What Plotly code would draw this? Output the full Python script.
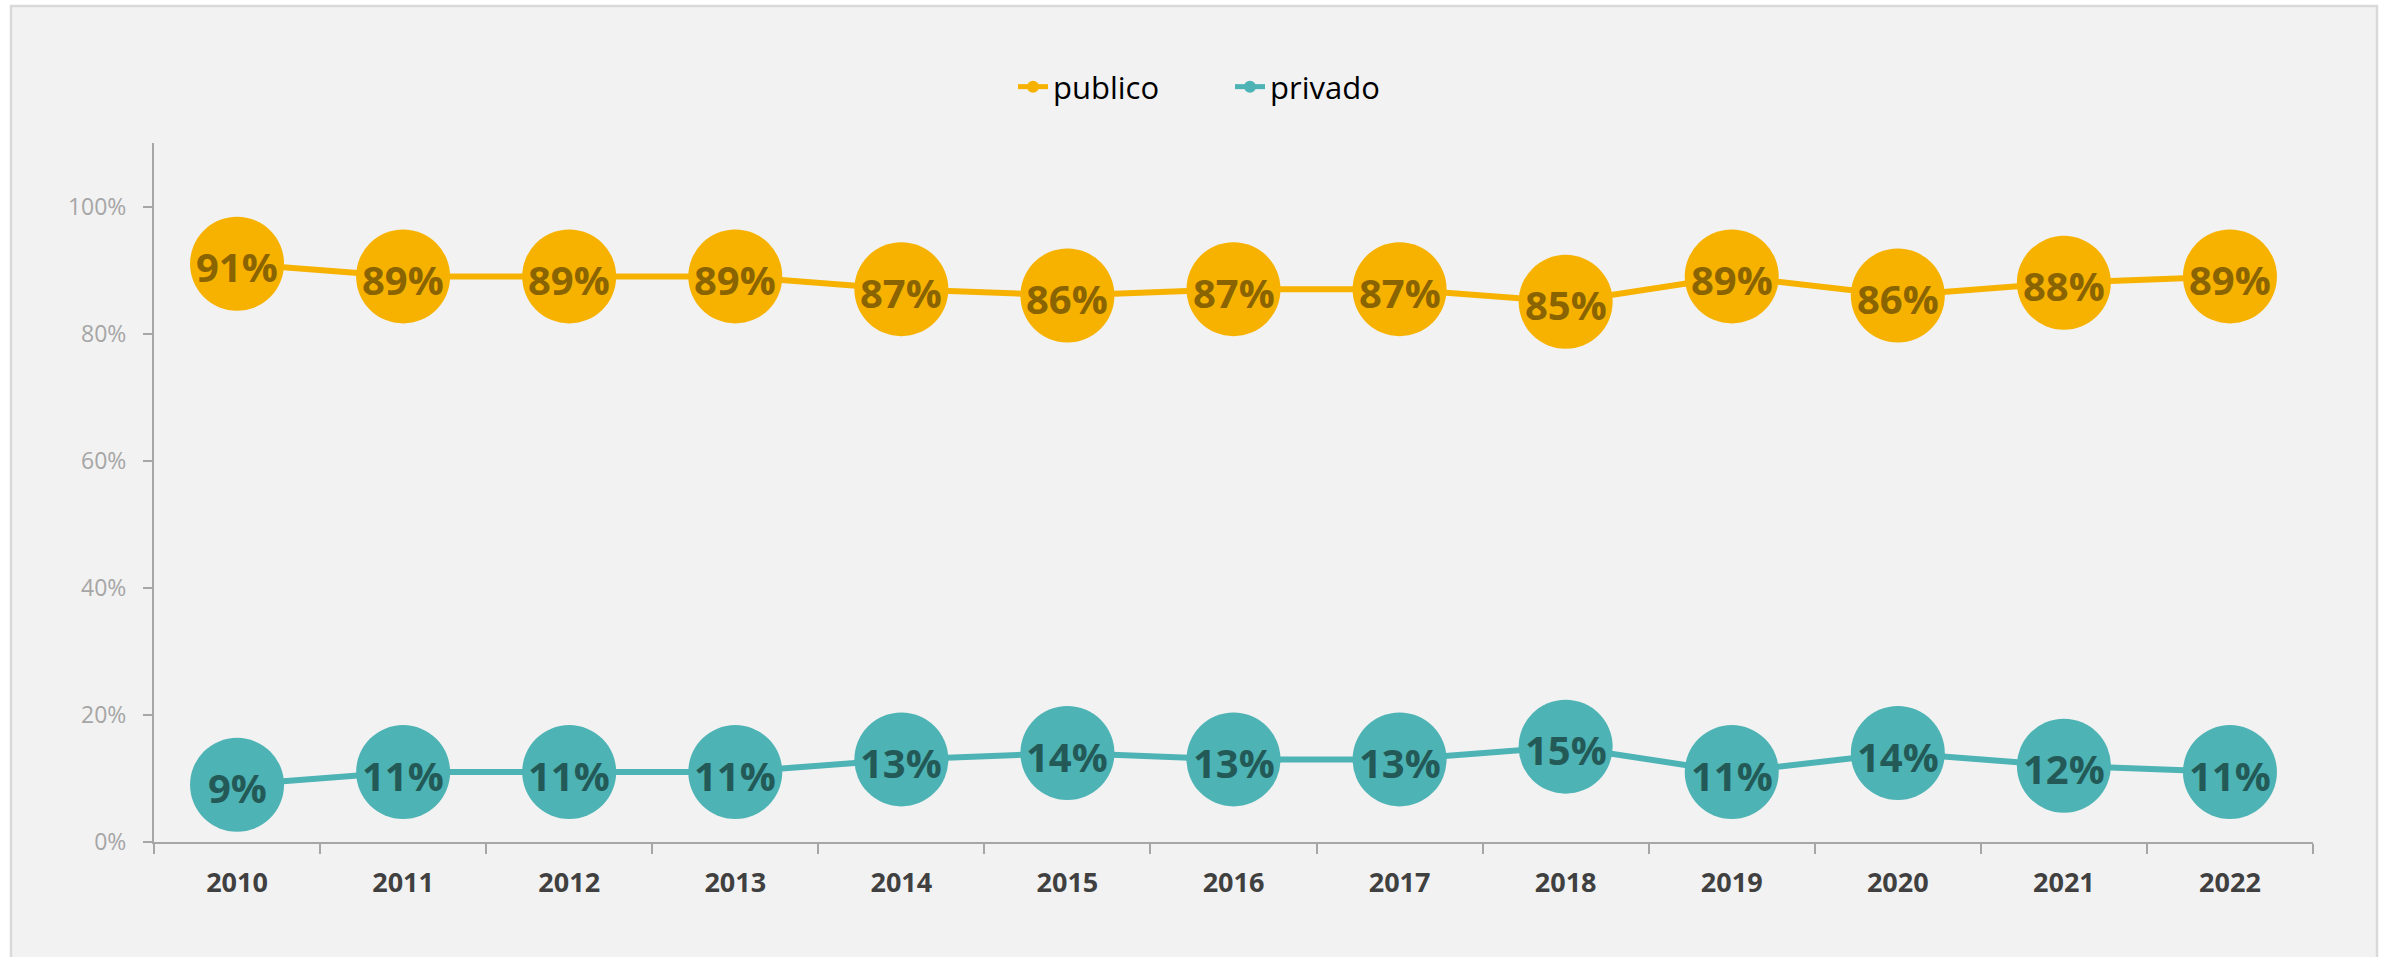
import plotly.graph_objects as go

years = ["2010", "2011", "2012", "2013", "2014", "2015", "2016", "2017", "2018", "2019", "2020", "2021", "2022"]
publico = [0.91, 0.89, 0.89, 0.89, 0.87, 0.86, 0.87, 0.87, 0.85, 0.89, 0.86, 0.88, 0.89]
privado = [0.09, 0.11, 0.11, 0.11, 0.13, 0.14, 0.13, 0.13, 0.15, 0.11, 0.14, 0.12, 0.11]
y_ticks = [0, 0.2, 0.4, 0.6, 0.8, 1.0]
y_tick_labels = ["0%", "20%", "40%", "60%", "80%", "100%"]

FONT = "Open Sans"

def labels(vals):
    return [f"{round(v*100)}%" for v in vals]

series = [
    ("publico", publico, "#F7B200", "#8A6400"),
    ("privado", privado, "#4DB3B4", "#235A58"),
]

fig = go.Figure()
for name, vals, col, tcol in series:
    fig.add_trace(go.Scatter(
        x=years, y=vals, name=name, mode="lines+markers",
        line=dict(color=col, width=6),
        marker=dict(color=col, size=94),
    ))
    # category index positions on the categorical x axis
    for i, (v, t) in enumerate(zip(vals, labels(vals))):
        fig.add_annotation(x=i, y=v, xref="x", yref="y", text=t, showarrow=False,
                           yshift=-3,
                           font=dict(family=FONT, size=40, color=tcol, weight="bold"))

W, H = 2395, 957
ml, mr, mt, mb = 154, 82, 143, 115
pw = W - ml - mr
ph = H - mt - mb

fig.add_shape(type="rect", xref="paper", yref="paper",
              x0=(11 - ml) / pw, x1=(2377 - ml) / pw,
              y0=1 - (980 - mt) / ph, y1=1 + (mt - 6) / ph,
              fillcolor="#F2F2F2", line=dict(color="#D9D9D9", width=2.5),
              layer="below")

fig.update_layout(
    width=W, height=H, autosize=False,
    margin=dict(l=ml, r=mr, t=mt, b=mb, autoexpand=False),
    paper_bgcolor="white", plot_bgcolor="rgba(0,0,0,0)",
    showlegend=True,
    legend=dict(orientation="h", x=(1230 - ml) / pw, xanchor="center",
                y=1.0 + (mt - 87) / ph, yanchor="middle", itemsizing="constant",
                font=dict(family=FONT, size=31, color="#000000"),
                bgcolor="rgba(0,0,0,0)", entrywidth=172, tracegroupgap=0),
    font=dict(family=FONT),
)
fig.update_xaxes(
    type="category", tickson="boundaries", ticks="outside", ticklen=10,
    tickcolor="#A6A6A6", tickwidth=2, showline=True, linecolor="#A6A6A6", linewidth=2,
    showgrid=False, zeroline=False, tickangle=0, automargin=False,
    ticklabelstandoff=16,
    tickfont=dict(family=FONT, size=27, color="#404040", weight="bold"),
    range=[-0.5, 12.5],
)
fig.update_yaxes(
    range=[0, 1.1], tickvals=y_ticks, ticktext=y_tick_labels,
    ticks="outside", ticklen=9, tickcolor="#A6A6A6", tickwidth=2,
    showline=True, linecolor="#A6A6A6", linewidth=2,
    showgrid=False, zeroline=False, automargin=False,
    ticklabelstandoff=12,
    tickfont=dict(family=FONT, size=23, color="#A6A6A6"),
)

fig.write_html("out.html", config={"displayModeBar": False},
               post_script="document.body.style.margin='0';")
